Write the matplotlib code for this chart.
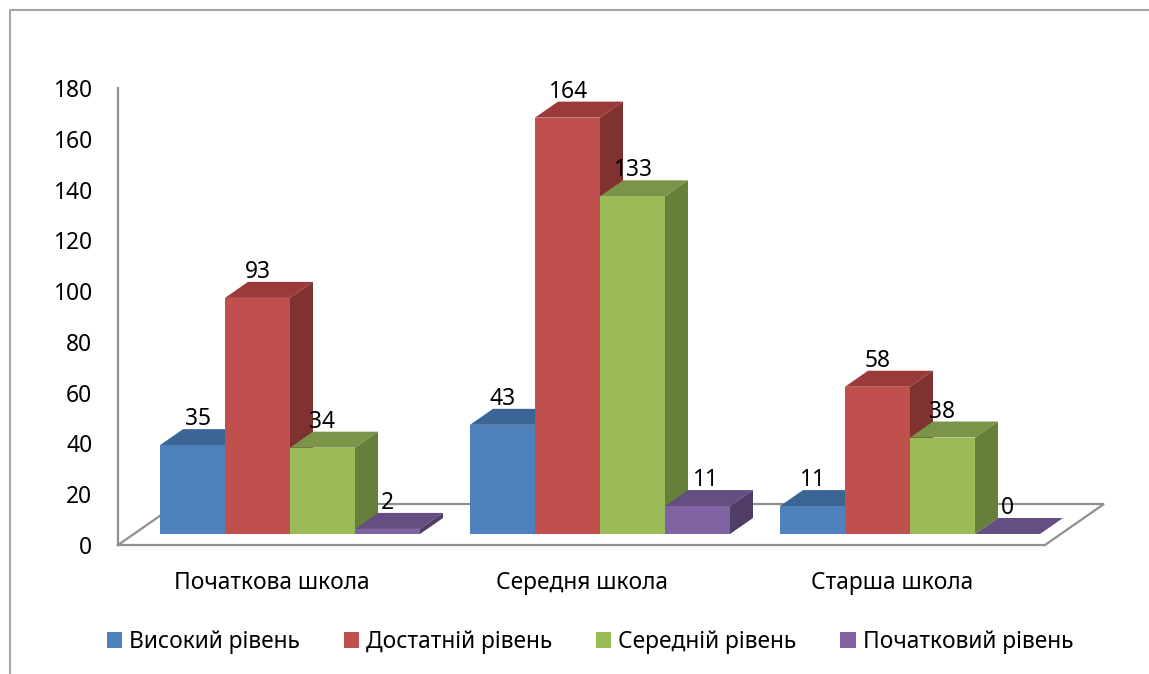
import matplotlib
matplotlib.use('Agg')
import matplotlib.pyplot as plt
from matplotlib.patches import Patch, Polygon
from matplotlib.lines import Line2D

categories = ['Початкова школа', 'Середня школа', 'Старша школа']
series_names = ['Високий рівень', 'Достатній рівень', 'Середній рівень', 'Початковий рівень']
high = [35, 43, 11]
enough = [93, 164, 58]
middle = [34, 133, 38]
basic = [2, 11, 0]
yticks = [0, 20, 40, 60, 80, 100, 120, 140, 160, 180]

front_cols = ['#4F81BD', '#C0504D', '#9BBB59', '#8064A2']
top_cols = ['#3A6595', '#9B3B39', '#7A9448', '#644E82']
side_cols = ['#2F5280', '#7F3230', '#667F3A', '#4F3D66']
grey = '#8F8F8F'
W, H = 1149, 674
FS = 16.4

plt.rcParams['font.family'] = ['Noto Sans', 'DejaVu Sans']

fig = plt.figure(figsize=(W / 100, H / 100), dpi=100)

def box(left, right, bottom, top):
    return [left / W, 1 - bottom / H, (right - left) / W, (bottom - top) / H]

# back wall and floor, carries the axis labels
wall = fig.add_axes(box(118, 1045, 545, 88))
wall.set_xlim((118 - 272) / 310, (1045 - 272) / 310)
wall.set_ylim(0, 180)
wall.set_xticks(range(len(categories)))
wall.set_xticklabels(categories)
wall.set_yticks(yticks)
wall.tick_params(length=0, labelsize=FS, labelcolor='black')
wall.tick_params(axis='y', pad=18.5)
wall.tick_params(axis='x', pad=18.5)
for s in ['top', 'right']:
    wall.spines[s].set_visible(False)
for s in ['left', 'bottom']:
    wall.spines[s].set_color(grey)
    wall.spines[s].set_linewidth(1.6)

x0, x1 = wall.get_xlim()
fdx, fdy = 59 / 310, 41 / 2.539
wall.plot([x0, x0 + fdx, x1 + fdx, x1], [0, fdy, fdy, 0], color=grey, lw=1.6,
          clip_on=False, solid_joinstyle='miter')

# bars sit in their own axes, shifted up from the wall by the floor depth
ax = fig.add_axes(box(118, 1045, 534, 77))
ax.patch.set_alpha(0)
ax.axis('off')
ax.set_xlim((118 - 290) / 310, (1045 - 290) / 310)
ax.set_ylim(0, 180)

bw = 65 / 310
dx, dy = 23 / 310, 16 / 2.539
z = 3
for i, vals in enumerate([high, enough, middle, basic]):
    for c, v in enumerate(vals):
        l = c + (i - 2) * bw
        r = l + bw
        ax.add_patch(Polygon([(l, v), (r, v), (r + dx, v + dy), (l + dx, v + dy)],
                             fc=top_cols[i], ec='none', zorder=z, clip_on=False))
        ax.add_patch(Polygon([(r, 0), (r + dx, dy), (r + dx, v + dy), (r, v)],
                             fc=side_cols[i], ec='none', zorder=z, clip_on=False))
        ax.bar(l, v, width=bw, align='edge', color=front_cols[i], zorder=z, clip_on=False)
    z += 1

# a couple of labels were moved sideways by hand in the original
nudge = {(0, 0): 5, (3, 1): 8}
for i, vals in enumerate([high, enough, middle, basic]):
    for c, v in enumerate(vals):
        off = nudge.get((i, c), 0)
        ax.text(c + (i - 1.5) * bw + off / 310, v + 26 / 2.539, str(v), ha='center', va='center',
                fontsize=FS, color='black', zorder=20, clip_on=False)

handles = [Patch(fc=col, ec='none') for col in front_cols]
fig.legend(handles, series_names, loc='center', bbox_to_anchor=(590 / W, 1 - 642 / H),
           ncol=4, frameon=False, fontsize=FS, handlelength=0.66, handleheight=0.66,
           handletextpad=0.31, columnspacing=1.93, borderpad=0, labelcolor='black')

# outer chart border, only left and top are in the frame
fig.add_artist(Line2D([9.5 / W, 9.5 / W, 1], [0, 1 - 10 / H, 1 - 10 / H], color='#A6A6A6', lw=1.5))

fig.savefig('out.png', dpi=100)
plt.close()
